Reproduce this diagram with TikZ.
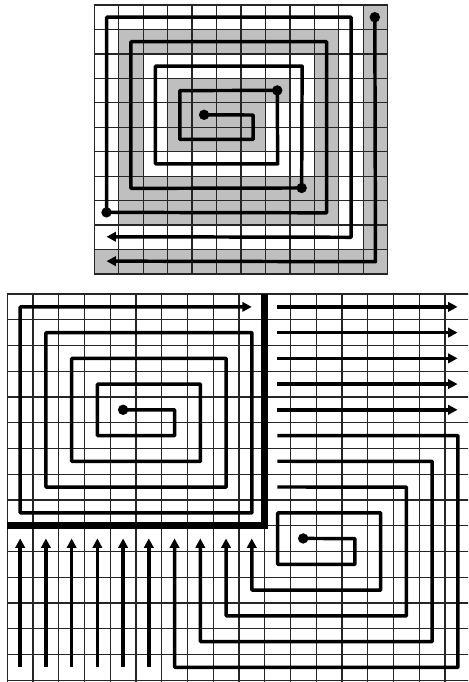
\documentclass[tikz,border=0pt]{standalone}
\usetikzlibrary{arrows.meta}
\definecolor{cellshade}{gray}{0.75}
\tikzset{
  gridline/.style={draw=black!85, line width=0.95pt},
  route/.style={draw=black, line width=2.6pt, line join=round},
  routearrow/.style={route, -{Triangle[length=7pt,width=7pt]}},
  divider/.style={draw=black, line width=4.8pt, line join=miter},
  dotnode/.style={circle, fill=black, inner sep=0pt, minimum size=7.8pt}
}
\begin{document}
\begin{tikzpicture}[x=0.75pt,y=-0.75pt]
\useasboundingbox (0,0) rectangle (468,682);
\clip (0,0) rectangle (468,682);
\fill[white] (0,0) rectangle (468,682);
% ---------------- top grid ----------------
\begin{scope}[shift={(94.3,5)},scale=24.45]
  \fill[cellshade] (3,3) rectangle (7,6) (7,3) rectangle (8,4)
    (1,1) rectangle (10,2) (1,2) rectangle (2,9) (9,2) rectangle (10,9)
    (1,7) rectangle (9,9) (11,0) rectangle (12,11) (0,10) rectangle (12,11);
  \foreach \i in {0,...,12} \draw[gridline] (\i,0) -- (\i,11);
  \foreach \j in {0,...,11} \draw[gridline] (0,\j) -- (12,\j);
  \begin{scope}[shift={(0.5,0.5)}]
    \coordinate (ts) at (4,4);
    \coordinate (t1) at (7,3);
    \coordinate (t2) at (8,7);
    \coordinate (t3) at (0,8);
    \coordinate (t4) at (11,0);
    \coordinate (te1) at (0,9);
    \coordinate (te2) at (0,10);
    \draw[routearrow] (ts) -- (6,4) -- (6,5) -- (3,5) -- (3,3) -- (t1) -- (7,6)
      -- (2,6) -- (2,2) -- (8,2) -- (t2) -- (1,7) -- (1,1) -- (9,1) -- (9,8)
      -- (t3) -- (0,0) -- (10,0) -- (10,9) -- (te1);
    \draw[routearrow] (t4) -- (11,10) -- (te2);
    \foreach \p in {ts,t1,t2,t3,t4} \node[dotnode] (dot-\p) at (\p) {};
  \end{scope}
\end{scope}
% ---------------- bottom grid ----------------
\begin{scope}[shift={(7.3,294)},scale=25.75]
  \foreach \i in {0,...,18} \draw[gridline] (\i,0) -- (\i,16);
  \foreach \j in {0,...,16} \draw[gridline] (0,\j) -- (18,\j);
  \coordinate (dvA) at (0,9);
  \coordinate (dvB) at (10,9);
  \coordinate (dvC) at (10,0);
  \draw[divider] (dvA) -- (dvB) -- (dvC);
  \begin{scope}[shift={(0.5,0.5)}]
    % top-left spiral
    \coordinate (bs) at (4,4);
    \coordinate (be) at (9,0);
    \draw[routearrow] (bs) -- (6,4) -- (6,5) -- (3,5) -- (3,3) -- (7,3) -- (7,6)
      -- (2,6) -- (2,2) -- (8,2) -- (8,7) -- (1,7) -- (1,1) -- (9,1) -- (9,8)
      -- (0,8) -- (0,0) -- (be);
    % bottom-right spiral
    \coordinate (cs) at (11,9);
    \coordinate (ce) at (9,9);
    \draw[routearrow] (cs) -- (13,9) -- (13,10) -- (10,10) -- (10,8) -- (14,8)
      -- (14,11) -- (9,11) -- (ce);
    % L-shaped routes
    \foreach \k in {0,1,2} {
      \coordinate (ls\k) at (10,7-\k);
      \coordinate (le\k) at (8-\k,9);
      \draw[routearrow] (ls\k) -- (15+\k,7-\k) -- (15+\k,12+\k) -- (8-\k,12+\k) -- (le\k);
    }
    % horizontal arrows
    \foreach \r in {0,...,4} {
      \coordinate (hs\r) at (10,\r);
      \coordinate (he\r) at (17,\r);
      \draw[routearrow] (hs\r) -- (he\r);
    }
    % vertical arrows
    \foreach \c in {0,...,5} {
      \coordinate (vs\c) at (\c,14);
      \coordinate (ve\c) at (\c,9);
      \draw[routearrow] (vs\c) -- (ve\c);
    }
    \node[dotnode] (dot-bs) at (bs) {};
    \node[dotnode] (dot-cs) at (cs) {};
  \end{scope}
\end{scope}
\end{tikzpicture}
\end{document}
